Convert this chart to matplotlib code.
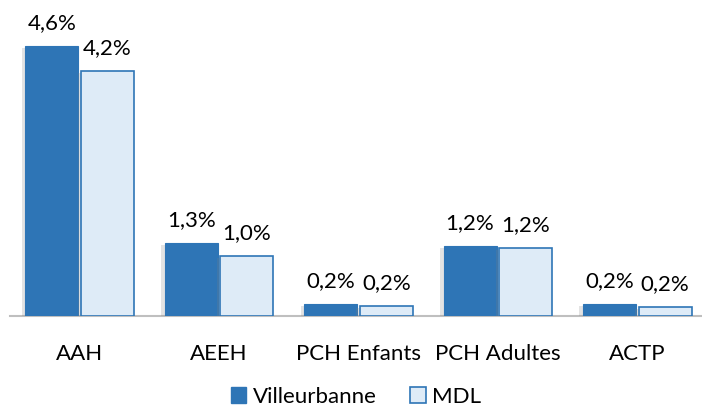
import matplotlib
matplotlib.use("Agg")
import numpy as np
from matplotlib import pyplot as plt
from matplotlib import patheffects as pe
from matplotlib.patches import Patch

plt.rcParams['font.family'] = ['Lato', 'DejaVu Sans']

categories = ["AAH", "AEEH", "PCH Enfants", "PCH Adultes", "ACTP"]
villeurbanne = [4.6, 1.24, 0.2, 1.19, 0.2]
mdl = [4.17, 1.02, 0.17, 1.16, 0.15]
villeurbanne_labels = ["4,6%", "1,3%", "0,2%", "1,2%", "0,2%"]
mdl_labels = ["4,2%", "1,0%", "0,2%", "1,2%", "0,2%"]

dark = "#2E75B6"
light = "#DEEBF7"

fig = plt.figure(figsize=(7.02, 4.07), dpi=100)
ax = fig.add_axes([10 / 702, 91 / 407, 697 / 702, 293.5 / 407])

x = np.arange(len(categories))
shadow = [pe.SimplePatchShadow(offset=(-2.5, -1.5), shadow_rgbFace="gray", alpha=0.22), pe.Normal()]

b1 = ax.bar(x - 0.2, villeurbanne, width=0.38, color=dark, edgecolor=dark,
            linewidth=0.8, zorder=3)
b2 = ax.bar(x + 0.2, mdl, width=0.38, color=light, edgecolor=dark,
            linewidth=1.2, zorder=3)
for p in list(b1) + list(b2):
    p.set_path_effects(shadow)

for xi, v, t in zip(x, villeurbanne, villeurbanne_labels):
    ax.text(xi - 0.2, v + 0.22, t, ha="center", va="bottom", fontsize=16)
for xi, v, t in zip(x, mdl, mdl_labels):
    ax.text(xi + 0.2, v + 0.22, t, ha="center", va="bottom", fontsize=16)

ax.set_xlim(-0.5, 4.5)
ax.set_ylim(0, 5)
ax.set_xticks(x)
ax.set_xticklabels(categories, fontsize=16)
ax.tick_params(axis="x", length=0, pad=20)
ax.set_yticks([])
for s in ["top", "right", "left"]:
    ax.spines[s].set_visible(False)
ax.spines["bottom"].set_color("#BFBFBF")
ax.spines["bottom"].set_linewidth(1.5)

handles = [Patch(facecolor=dark, edgecolor=dark, label="Villeurbanne"),
           Patch(facecolor=light, edgecolor=dark, linewidth=1.2, label="MDL")]
fig.legend(handles=handles, loc="center", bbox_to_anchor=(356 / 702, 1 - 397 / 407),
           ncol=2, frameon=False, fontsize=16, handlelength=0.7, handleheight=0.7,
           handletextpad=0.3, columnspacing=1.5)

fig.savefig("out.png", dpi=100)
